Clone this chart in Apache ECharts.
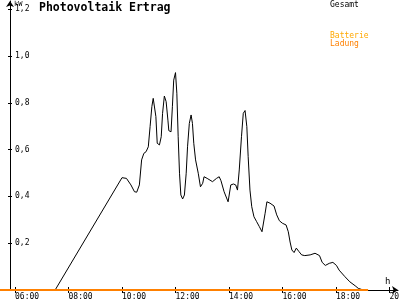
<!DOCTYPE html>
<html><head><meta charset="utf-8">
<script src="https://cdn.jsdelivr.net/npm/echarts@6/dist/echarts.min.js"></script>
<style>html,body{margin:0;padding:0;background:#fff}#c{width:400px;height:300px}</style>
</head><body><div id="c"></div>
<script>
// ---- data ----
const times = ['07:30','10:00','10:10','10:20','10:28','10:33','10:39','10:44','10:49','10:54','10:59','11:03','11:07','11:10','11:16','11:19','11:24','11:28','11:31','11:35','11:39','11:43','11:45','11:50','11:53','11:56','12:00','12:03','12:06','12:09','12:12','12:16','12:20','12:24','12:27','12:31','12:35','12:38','12:41','12:45','12:51','12:56','13:01','13:04','13:11','13:23','13:32','13:38','13:42','13:49','13:58','14:04','14:10','14:15','14:19','14:23','14:28','14:32','14:36','14:40','14:43','14:47','14:51','14:56','15:02','15:08','15:14','15:17','15:21','15:25','15:32','15:41','15:47','15:53','16:00','16:08','16:13','16:17','16:21','16:26','16:31','16:37','16:43','16:50','17:02','17:13','17:17','17:23','17:29','17:36','17:45','17:53','18:01','18:07','18:20','18:31','18:43','18:50','18:58','19:03'];
const gesamt = [0,0.48,0.477,0.449,0.420,0.418,0.449,0.556,0.584,0.591,0.612,0.698,0.784,0.819,0.741,0.627,0.620,0.655,0.755,0.829,0.805,0.726,0.681,0.676,0.783,0.897,0.929,0.841,0.655,0.499,0.406,0.389,0.406,0.499,0.612,0.712,0.748,0.712,0.627,0.556,0.499,0.441,0.456,0.484,0.477,0.463,0.477,0.484,0.467,0.420,0.377,0.449,0.453,0.449,0.427,0.513,0.655,0.755,0.767,0.698,0.570,0.427,0.356,0.313,0.292,0.271,0.249,0.256,0.328,0.377,0.371,0.359,0.321,0.296,0.285,0.278,0.249,0.205,0.171,0.160,0.179,0.164,0.150,0.147,0.150,0.157,0.164,0.147,0.118,0.105,0.114,0.118,0.105,0.085,0.057,0.035,0.018,0.007,0.002,0];
const ladungTimes = ['05:26','19:12'];
const ladung = [0, 0];
const yTicks = [0.2, 0.4, 0.6, 0.8, 1.0, 1.2];
const xTicks = ['06:00','08:00','10:00','12:00','14:00','16:00','18:00','20:00'];

// ---- helpers ----
const toH = s => { const [h, m] = s.split(':').map(Number); return h + m / 60; };
const fmtH = v => { const h = Math.floor(v + 1e-6), m = Math.round((v - h) * 60); return String(h).padStart(2,'0') + ':' + String(m).padStart(2,'0'); };
const xTickVals = xTicks.map(toH);
const font = '"DejaVu Sans Mono", monospace';

const chart = echarts.init(document.getElementById('c'), null, {renderer: 'canvas'});
const xMin = 6 - 15 / 26.75, xMax = 6 + 383 / 26.75;
const yMax = 289 / 234;

const xBase = {
  type: 'value', min: xMin, max: xMax, gridIndex: 0, position: 'bottom',
  splitLine: {show: false},
  axisLine: {onZero: false, lineStyle: {color: '#000', width: 1}},
};
const yBase = {
  type: 'value', min: 0, max: yMax, position: 'left', offset: -10,
  splitLine: {show: false},
  axisLine: {onZero: false, lineStyle: {color: '#000', width: 1}},
};

chart.setOption({
  animation: false,
  backgroundColor: '#fff',
  grid: {left: 0, right: 2, top: 1, bottom: 10, containLabel: false, outerBoundsMode: 'none'},
  xAxis: [
    Object.assign({}, xBase, {
      axisLine: {onZero: false, lineStyle: {color: '#000', width: 1}, symbol: ['none', 'arrow'], symbolSize: [6, 6]},
      axisTick: {show: true, inside: false, length: 3, customValues: xTickVals, lineStyle: {color: '#000'}},
      axisLabel: {show: true, customValues: xTickVals, formatter: fmtH, align: 'left', margin: 3, fontSize: 8, fontFamily: font, color: '#000', hideOverlap: false}
    }),
    Object.assign({}, xBase, {
      axisLine: {show: false, onZero: false},
      axisTick: {show: true, inside: true, length: 3, customValues: xTickVals, lineStyle: {color: '#000'}},
      axisLabel: {show: false}
    })
  ],
  yAxis: [
    Object.assign({}, yBase, {
      axisLine: {onZero: false, lineStyle: {color: '#000', width: 1}, symbol: ['none', 'arrow'], symbolSize: [6, 6]},
      axisTick: {show: true, inside: true, length: 2, customValues: yTicks, lineStyle: {color: '#000'}},
      axisLabel: {show: true, inside: true, customValues: yTicks, margin: 5, fontSize: 8, fontFamily: font, color: '#000',
        formatter: v => v.toFixed(1).replace('.', ',')}
    }),
    Object.assign({}, yBase, {
      axisLine: {show: false, onZero: false},
      axisTick: {show: true, inside: false, length: 2, customValues: yTicks, lineStyle: {color: '#000'}},
      axisLabel: {show: false}
    })
  ],
  series: [
    {name: 'Gesamt', type: 'line', xAxisIndex: 0, yAxisIndex: 0, showSymbol: false, symbol: 'none',
     lineStyle: {color: '#000', width: 1}, data: times.map((t, i) => [toH(t), gesamt[i]]), z: 2},
    {name: 'Ladung', type: 'line', xAxisIndex: 0, yAxisIndex: 0, showSymbol: false, symbol: 'none',
     lineStyle: {color: '#FF8000', width: 2}, data: ladungTimes.map((t, i) => [toH(t), ladung[i]]), z: 3}
  ],
  graphic: [
    {type: 'text', left: 39, top: 2, style: {text: 'Photovoltaik Ertrag', font: 'bold 11.5px ' + font, fill: '#000'}},
    {type: 'text', left: 14, top: 1, style: {text: 'kW', font: '7px ' + font, fill: '#000'}},
    {type: 'text', left: 385, top: 277, style: {text: 'h', font: '9px ' + font, fill: '#000'}},
    {type: 'text', left: 330, top: 1, style: {text: 'Gesamt', font: '8px ' + font, fill: '#000'}},
    {type: 'text', left: 330, top: 32, style: {text: 'Batterie', font: '8px ' + font, fill: '#FFA800'}},
    {type: 'text', left: 330, top: 40, style: {text: 'Ladung', font: '8px ' + font, fill: '#FF8000'}}
  ]
});
</script></body></html>
